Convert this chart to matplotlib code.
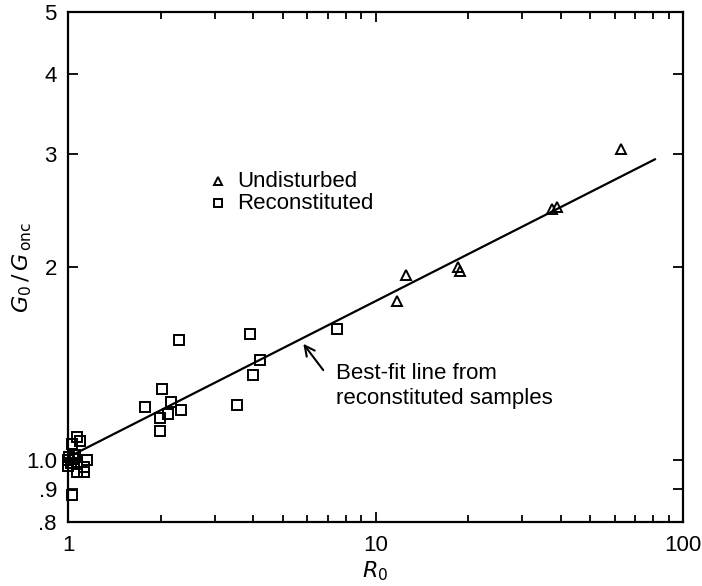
import matplotlib.pyplot as plt
from matplotlib.ticker import FixedLocator, NullLocator, LogLocator, NullFormatter

plt.rcParams['font.family'] = ['Liberation Sans', 'DejaVu Sans']

# undisturbed samples (triangles)
und_r = [63.0, 37.5, 39.0, 18.5, 18.8, 12.6, 11.7]
und_g = [3.06, 2.46, 2.48, 2.00, 1.97, 1.94, 1.77]

# reconstituted samples (squares)
rec_r = [3.9, 7.5, 2.3, 4.0, 4.2, 2.02, 1.78, 2.16, 2.12, 1.99, 2.33, 1.99, 3.55,
         1.07, 1.09, 1.03, 1.0, 1.05, 1.15, 1.07, 1.07, 1.13, 1.03, 1.13,
         1.01, 1.02, 1.0, 1.04]
rec_g = [1.57, 1.60, 1.54, 1.356, 1.43, 1.29, 1.21, 1.23, 1.18, 1.163, 1.196, 1.11, 1.217,
         1.087, 1.07, 1.06, 1.0, 1.017, 1.0, 0.987, 0.958, 0.958, 0.881, 0.976,
         1.01, 0.99, 0.98, 1.005]

# best-fit line end points
fit_r = [1.06, 81.0]
fit_g = [1.024, 2.945]

yticks = [0.8, 0.9, 1.0, 2, 3, 4, 5]
ytick_labels = ['.8', '.9', '1.0', '2', '3', '4', '5']
xticks = [1, 10, 100]
xtick_labels = ['1', '10', '100']

fig = plt.figure(figsize=(7.02, 5.86), dpi=100)
ax = fig.add_axes([0.0969, 0.1092, 0.8761, 0.8703])

ax.plot(fit_r, fit_g, color='black', lw=1.6)
ax.plot(rec_r, rec_g, ls='none', marker='s', ms=7, mfc='none', mec='black', mew=1.4, clip_on=False)
ax.plot(und_r, und_g, ls='none', marker='^', ms=7.5, mfc='none', mec='black', mew=1.4, clip_on=False)

ax.set_xscale('log')
ax.set_yscale('log')
ax.set_xlim(1, 100)
ax.set_ylim(0.8, 5)

ax.xaxis.set_major_locator(FixedLocator(xticks))
ax.set_xticklabels(xtick_labels)
ax.xaxis.set_minor_locator(LogLocator(base=10, subs=range(2, 10)))
ax.xaxis.set_minor_formatter(NullFormatter())
ax.yaxis.set_major_locator(FixedLocator(yticks))
ax.set_yticklabels(ytick_labels)
ax.yaxis.set_minor_locator(NullLocator())

ax.tick_params(which='both', direction='in', top=True, right=True, labelsize=16, width=1.3)
ax.tick_params(which='major', length=7)
ax.tick_params(which='minor', length=5)
ax.tick_params(axis='y', pad=8)
ax.tick_params(axis='x', pad=9)
for s in ax.spines.values():
    s.set_linewidth(1.6)

ax.set_xlabel(r'$R_0$', fontsize=16, labelpad=3)
ax.set_ylabel(r'$G_0\,/\,G_{\,\rm onc}$', fontsize=16)
ax.yaxis.set_label_coords(-0.055, 0.5)

# legend
ax.plot([3.07], [2.72], ls='none', marker='^', ms=6, mfc='none', mec='black', mew=1.4)
ax.plot([3.07], [2.515], ls='none', marker='s', ms=5.5, mfc='none', mec='black', mew=1.4)
ax.text(3.55, 2.72, 'Undisturbed', fontsize=16, va='center')
ax.text(3.55, 2.515, 'Reconstituted', fontsize=16, va='center')

ax.annotate('Best-fit line from\nreconstituted samples', xy=(5.75, 1.53), xytext=(7.45, 1.415),
            fontsize=16, va='top', ha='left', linespacing=1.2,
            arrowprops=dict(arrowstyle='->', color='black', lw=1.5, shrinkA=0,
                            relpos=(-0.06, 0.85), mutation_scale=18))

fig.savefig('out.png', dpi=100)
